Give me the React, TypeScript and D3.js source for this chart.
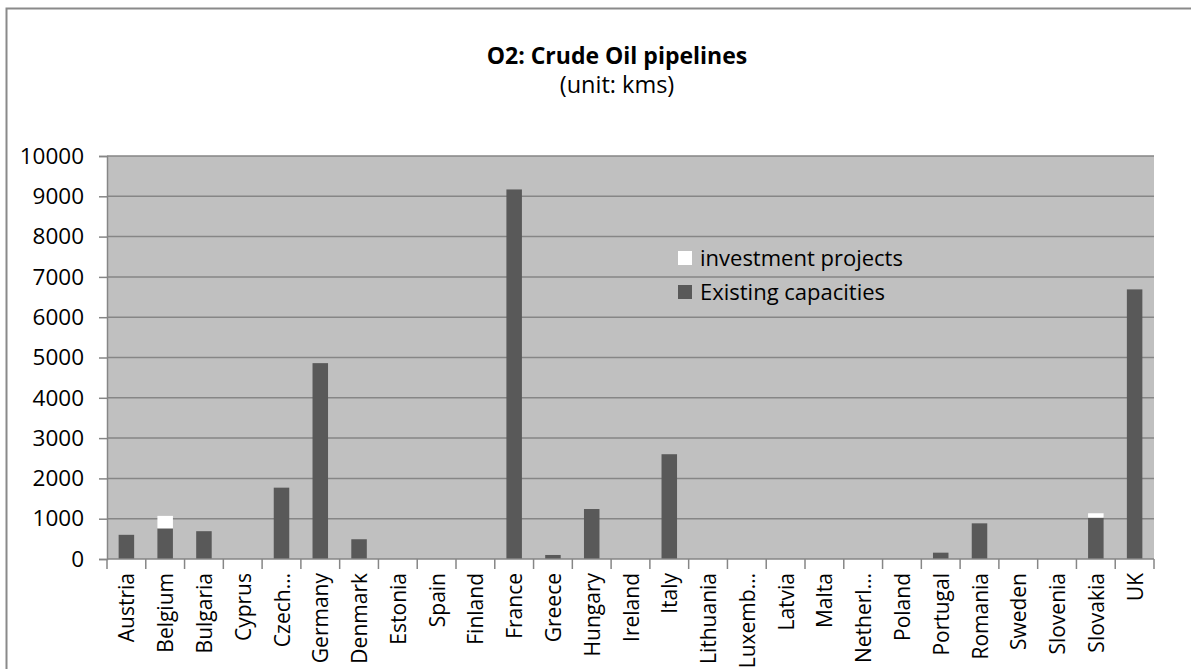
import { useEffect, useRef } from "react";
import * as d3 from "d3";

const COUNTRIES = [
  "Austria", "Belgium", "Bulgaria", "Cyprus", "Czech…", "Germany", "Denmark", "Estonia", "Spain",
  "Finland", "France", "Greece", "Hungary", "Ireland", "Italy", "Lithuania", "Luxemb…", "Latvia",
  "Malta", "Netherl…", "Poland", "Portugal", "Romania", "Sweden", "Slovenia", "Slovakia", "UK",
];
const EXISTING = [600, 760, 690, 0, 1770, 4860, 490, 0, 0, 0, 9170, 100, 1240, 0, 2600, 0, 0, 0, 0, 0, 0, 157, 885, 0, 0, 1025, 6690];
const INVESTMENT = [0, 310, 0, 0, 0, 0, 0, 0, 0, 0, 0, 0, 0, 0, 0, 0, 0, 0, 0, 0, 0, 0, 0, 0, 0, 110, 0];
const Y_TICKS = [0, 1000, 2000, 3000, 4000, 5000, 6000, 7000, 8000, 9000, 10000];

const COLORS: Record<string, string> = {
  existing: "#595959",
  investment: "#ffffff",
};
const FONT = "'Open Sans', sans-serif";

export default function App() {
  const svgRef = useRef<SVGSVGElement>(null);

  useEffect(() => {
    if (!svgRef.current) return;
    const svg = d3.select(svgRef.current);
    svg.selectAll("*").remove();

    const plot = { left: 107, right: 1154, top: 156, bottom: 559 };

    // chart frame
    svg.append("rect")
      .attr("x", 6.5).attr("y", 8.5)
      .attr("width", 1300).attr("height", 800)
      .attr("fill", "#fff").attr("stroke", "#8a8a8a").attr("stroke-width", 2);

    svg.append("text")
      .attr("x", 617).attr("y", 64)
      .attr("text-anchor", "middle")
      .attr("font-family", FONT).attr("font-weight", "bold").attr("font-size", "23px")
      .attr("fill", "#000")
      .text("O2: Crude Oil pipelines");
    svg.append("text")
      .attr("x", 617).attr("y", 93)
      .attr("text-anchor", "middle")
      .attr("font-family", FONT).attr("font-size", "23.5px")
      .attr("fill", "#000")
      .text("(unit: kms)");

    const x = d3.scaleBand().domain(COUNTRIES).range([plot.left, plot.right]).paddingInner(0.6).paddingOuter(0.3);
    const y = d3.scaleLinear().domain([0, 10000]).range([plot.bottom, plot.top]);
    const step = x.step();
    const bandStart = (c: string) => x(c)! - x.paddingOuter() * step;

    // plot area
    svg.append("rect")
      .attr("x", plot.left).attr("y", plot.top)
      .attr("width", plot.right - plot.left).attr("height", plot.bottom - plot.top)
      .attr("fill", "#c0c0c0");

    // gridlines
    svg.append("g")
      .selectAll("line")
      .data(Y_TICKS.filter((d) => d > 0))
      .join("line")
      .attr("x1", plot.left).attr("x2", plot.right)
      .attr("y1", (d) => y(d)).attr("y2", (d) => y(d))
      .attr("stroke", "#868686").attr("stroke-width", 1.5);

    // stacked bars
    const rows = COUNTRIES.map((c, i) => ({ country: c, existing: EXISTING[i], investment: INVESTMENT[i] }));
    const series = d3.stack<any>().keys(["existing", "investment"])(rows);
    series.forEach((s) => {
      svg.append("g")
        .selectAll("rect")
        .data(s.filter((d) => d[1] - d[0] > 0))
        .join("rect")
        .attr("x", (d) => x(d.data.country)!)
        .attr("width", x.bandwidth())
        .attr("y", (d) => y(d[1]))
        .attr("height", (d) => y(d[0]) - y(d[1]))
        .attr("fill", COLORS[s.key]);
    });

    // y axis
    svg.append("g")
      .attr("transform", `translate(${plot.left},0)`)
      .call(d3.axisLeft(y).tickValues(Y_TICKS).tickSize(8).tickPadding(15).tickFormat((d) => `${d}`))
      .call((g) => g.select(".domain").attr("stroke", "#868686").attr("stroke-width", 1.5))
      .call((g) => g.selectAll(".tick line").attr("stroke", "#868686").attr("stroke-width", 1.5))
      .call((g) => g.selectAll(".tick text")
        .attr("fill", "#000").attr("font-size", "22.5px").attr("font-family", FONT));

    // x axis line + ticks between categories
    svg.append("line")
      .attr("x1", plot.left).attr("x2", plot.right)
      .attr("y1", plot.bottom).attr("y2", plot.bottom)
      .attr("stroke", "#868686").attr("stroke-width", 1.5);
    const bounds = [...COUNTRIES.map(bandStart), plot.right];
    svg.append("g")
      .selectAll("line")
      .data(bounds)
      .join("line")
      .attr("x1", (d) => d).attr("x2", (d) => d)
      .attr("y1", plot.bottom).attr("y2", plot.bottom + 10)
      .attr("stroke", "#868686").attr("stroke-width", 1.5);

    // rotated category labels
    svg.append("g")
      .selectAll("text")
      .data(COUNTRIES)
      .join("text")
      .attr("transform", (d) => `translate(${x(d)! + x.bandwidth() / 2 + 8},${plot.bottom + 14}) rotate(-90)`)
      .attr("text-anchor", "end")
      .attr("font-family", FONT).attr("font-size", "21px")
      .attr("fill", "#000")
      .text((d) => d);

    // legend
    const legendItems = [
      { key: "investment", label: "investment projects" },
      { key: "existing", label: "Existing capacities" },
    ];
    const legend = svg.append("g").attr("transform", "translate(678,258)");
    legendItems.forEach((item, i) => {
      legend.append("rect")
        .attr("x", 0).attr("y", i * 34 - 7)
        .attr("width", 14).attr("height", 14)
        .attr("fill", COLORS[item.key]);
      legend.append("text")
        .attr("x", 22).attr("y", i * 34 + 8)
        .attr("font-family", FONT).attr("font-size", "22px")
        .attr("fill", "#000")
        .text(item.label);
    });
  }, []);

  return (
    <svg
      ref={svgRef}
      width={1191}
      height={669}
      style={{ position: "absolute", left: 0, top: 0, background: "#fff" }}
    />
  );
}
